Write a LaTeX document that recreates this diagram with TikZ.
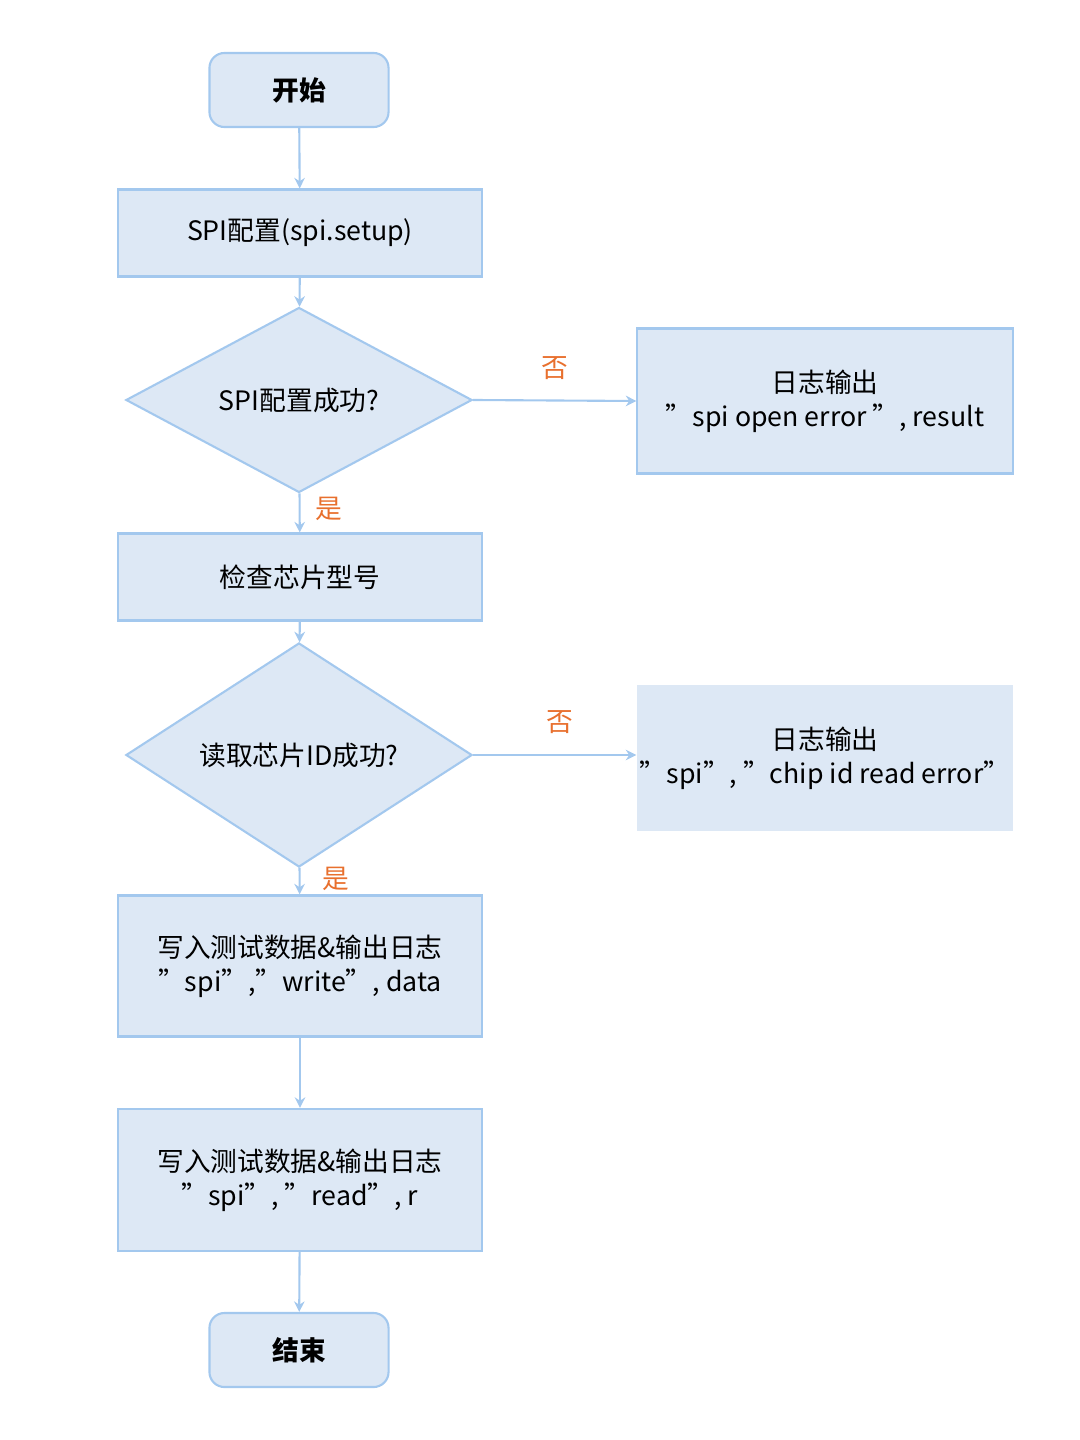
\documentclass[tikz,border=0pt]{standalone}
\usepackage{fontspec}
\setmainfont{Noto Sans CJK SC}
\usetikzlibrary{shapes.geometric,arrows.meta}
\definecolor{fillc}{HTML}{DDE8F5}
\definecolor{linec}{HTML}{A3C8EE}
\definecolor{labc}{HTML}{E8702E}
\begin{document}
\begin{tikzpicture}[x=0.01cm,y=-0.01cm,
  every node/.style={font=\fontsize{7.6pt}{9.6pt}\selectfont,align=center,inner sep=0pt},
  term/.style={draw=linec,fill=fillc,line width=0.6pt,rounded corners=0.15cm,minimum width=1.79cm,minimum height=0.74cm,font=\fontsize{7.6pt}{9.6pt}\selectfont\bfseries},
  proc/.style={draw=linec,fill=fillc,line width=0.6pt,minimum width=3.64cm},
  dec/.style={draw=linec,fill=fillc,line width=0.6pt,diamond,minimum width=3.46cm,minimum height=1.42cm,inner sep=0pt},
  errbox/.style={fill=fillc,line width=0.6pt,minimum width=3.75cm,minimum height=1.45cm},
  arr/.style={draw=linec,line width=0.6pt,-{Stealth[length=3pt,width=3pt]}},
  lab/.style={text=labc}]
\useasboundingbox (0,0) rectangle (1080,1440);
\node[term] (start) at (299,90) {开始};
\node[proc,minimum height=0.87cm] (cfg) at (300,233) {SPI配置(spi.setup)};
\node[dec] (d1) at (299,400) {SPI配置成功?};
\node[errbox,draw=linec] (e1) at (825,401) {日志输出\\"spi open error ", result};
\node[proc,minimum height=0.87cm] (chk) at (300,577) {检查芯片型号};
\node[dec] (d2) at (299,755) {读取芯片ID成功?};
\node[errbox] (e2) at (825,758) {日志输出\\"spi", "chip id read error"};
\node[proc,minimum height=1.41cm] (wr) at (300,966) {写入测试数据\&输出日志\\"spi","write", data};
\node[proc,minimum height=1.42cm] (rd) at (300,1180) {写入测试数据\&输出日志\\"spi", "read", r};
\node[term] (end) at (299,1350) {结束};
\draw[arr] (start) -- (cfg);
\draw[arr] (cfg) -- (d1);
\draw[arr] (d1) -- node[lab,pos=0.4,right=0.15cm]{是} (chk);
\draw[arr] (d1.east) -- node[lab,pos=0.5,above=0.2cm]{否} (e1.west);
\draw[arr] (chk) -- (d2);
\draw[arr] (d2) -- node[lab,pos=0.4,right=0.22cm]{是} (wr);
\draw[arr] (d2.east) -- node[lab,pos=0.53,above=0.2cm]{否} (d2.east -| e2.west);
\draw[arr] (wr) -- (rd);
\draw[arr] (rd) -- (end);
\end{tikzpicture}
\end{document}
